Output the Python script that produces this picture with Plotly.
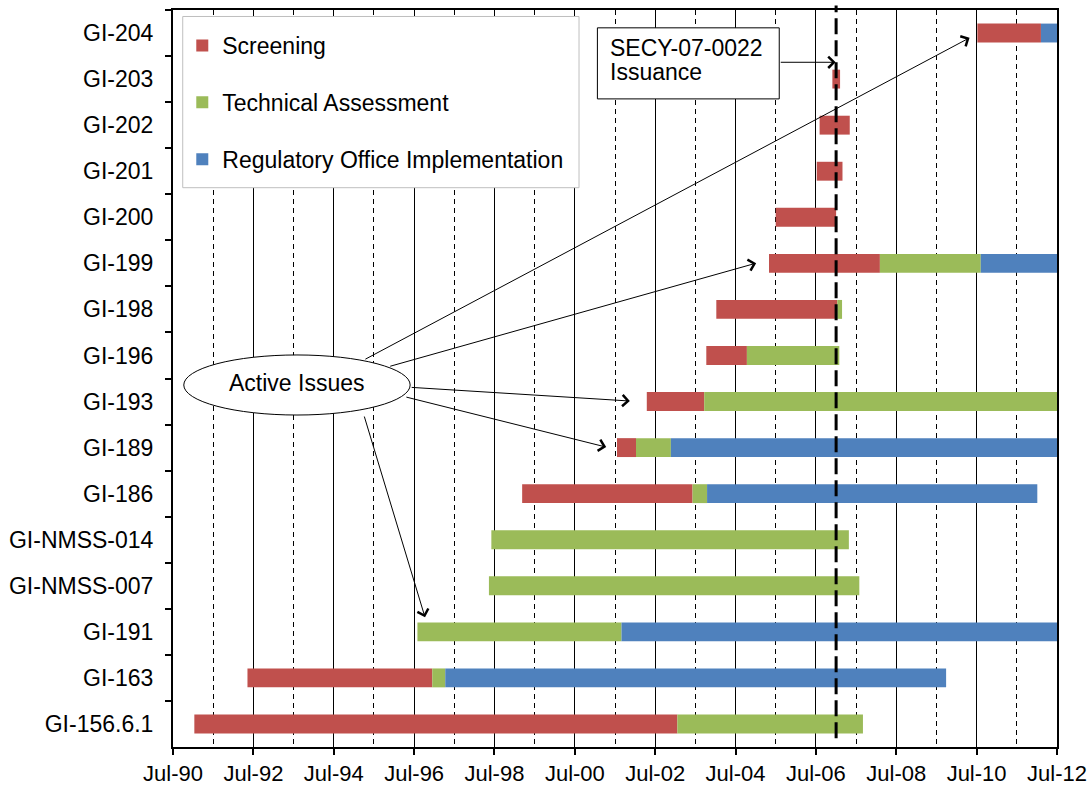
import pandas as pd
import plotly.graph_objects as go

# Generic issues, listed top to bottom
issues = ["GI-204", "GI-203", "GI-202", "GI-201", "GI-200", "GI-199", "GI-198",
          "GI-196", "GI-193", "GI-189", "GI-186", "GI-NMSS-014", "GI-NMSS-007",
          "GI-191", "GI-163", "GI-156.6.1"]

# Phase start / end dates (None = phase not applicable)
screening_start = ["2010-07-08", "2006-11-28", "2006-08-04", "2006-07-09", "2005-07-01",
                   "2005-05-01", "2004-01-08", "2003-10-09", "2002-04-16", "2001-07-19",
                   "1999-03-10", None, None, None, "1992-05-08", "1991-01-11"]
screening_end = ["2012-02-06", "2007-02-06", "2007-05-05", "2007-02-28", "2007-01-01",
                 "2008-02-03", "2007-01-12", "2004-10-12", "2003-09-20", "2002-01-08",
                 "2003-06-06", None, None, None, "1996-12-13", "2003-01-19"]
tech_start = [None, None, None, None, None,
              "2008-02-03", "2007-01-12", "2004-10-12", "2003-09-20", "2002-01-08",
              "2003-06-06", "1998-06-03", "1998-05-12", "1996-07-31", "1996-12-13", "2003-01-19"]
tech_end = [None, None, None, None, None,
            "2010-08-08", "2007-02-24", "2007-01-30", "2012-07-01", "2002-11-21",
            "2003-10-16", "2007-04-27", "2007-07-31", "2001-08-29", "1997-04-10", "2007-09-02"]
roi_start = ["2012-02-06", None, None, None, None, "2010-08-08", None, None, None,
             "2002-11-21", "2003-10-16", None, None, "2001-08-29", "1997-04-10", None]
roi_end = ["2012-07-01", None, None, None, None, "2012-07-01", None, None, None,
           "2012-07-01", "2012-01-04", None, None, "2012-07-01", "2009-09-27", None]

secy_date = "2007-01-01"
axis_start, axis_end = "1990-07-01", "2012-07-01"

phases = [
    ("Screening", screening_start, screening_end, "#C0504D"),
    ("Technical Assessment", tech_start, tech_end, "#9BBB59"),
    ("Regulatory Office Implementation", roi_start, roi_end, "#4F81BD"),
]

FONT = "Liberation Sans, Arial, sans-serif"
FS = 23

fig = go.Figure()
for name, starts, ends, color in phases:
    ys, bases, lengths = [], [], []
    for issue, s, e in zip(issues, starts, ends):
        if s is None or e is None:
            continue
        ys.append(issue)
        bases.append(s)
        lengths.append((pd.Timestamp(e) - pd.Timestamp(s)).total_seconds() * 1000)
    fig.add_trace(go.Bar(
        y=ys, x=lengths, base=bases, orientation="h", name=name,
        marker=dict(color=color, line=dict(width=0)),
        legendgroup=name,
    ))

# Legend frame (white panel hiding the grid behind the legend entries)
fig.add_shape(type="rect", xref="paper", yref="paper", x0=0.011, x1=0.4593,
              y0=0.7589, y1=0.9912, line=dict(color="#BFBFBF", width=1),
              fillcolor="white", layer="above")

# Key date: SECY-07-0022 issuance
fig.add_shape(type="line", xref="x", yref="paper", x0=secy_date, x1=secy_date,
              y0=0.012, y1=1.006, line=dict(color="black", width=3, dash="16px,6px"),
              layer="above")

# Callout box for the SECY issuance
fig.add_shape(type="rect", xref="x", yref="y", x0="2001-01-22", x1="2005-08-02",
              y0=-0.113, y1=1.43, line=dict(color="black", width=1),
              fillcolor="white", layer="above")
for txt, yy in [("SECY-07-0022", 0.315), ("Issuance", 0.852)]:
    fig.add_annotation(x="2001-04-25", y=yy, xref="x", yref="y", text=txt,
                       showarrow=False, xanchor="left", yanchor="middle",
                       font=dict(family=FONT, size=FS, color="black"))
fig.add_annotation(x="2006-12-28", y=0.635, ax="2005-08-02", ay=0.635,
                   xref="x", yref="y", axref="x", ayref="y", text="",
                   showarrow=True, arrowhead=4, arrowsize=2.2, arrowwidth=1,
                   arrowcolor="black", standoff=0)

# "Active Issues" callout ellipse with arrows to the open issues
fig.add_shape(type="circle", xref="x", yref="y", x0="1990-10-07", x1="1996-05-26",
              y0=6.989, y1=8.293, line=dict(color="black", width=1),
              fillcolor="white", layer="above")
fig.add_annotation(x="1993-08-01", y=7.6, xref="x", yref="y", text="Active Issues",
                   showarrow=False, font=dict(family=FONT, size=FS, color="black"))

active_arrows = [
    # (tail x, tail y, head x, head y)
    ("1995-04-01", 7.098, "2010-04-28", 0.104),
    ("1995-11-13", 7.243, "2005-01-04", 4.996),
    ("1996-05-26", 7.691, "2001-11-13", 7.989),
    ("1996-04-08", 7.896, "2001-04-12", 8.989),
    ("1995-04-01", 8.293, "1996-10-08", 12.685),
]
for tx, ty, hx, hy in active_arrows:
    fig.add_annotation(x=hx, y=hy, ax=tx, ay=ty, xref="x", yref="y",
                       axref="x", ayref="y", text="", showarrow=True,
                       arrowhead=4, arrowsize=2.2, arrowwidth=1,
                       arrowcolor="black", standoff=0)

fig.update_layout(
    width=1089, height=785,
    margin=dict(l=173, r=32, t=10, b=38),
    paper_bgcolor="white", plot_bgcolor="white",
    barmode="overlay", bargap=0.59,
    font=dict(family=FONT, size=FS, color="black"),
    showlegend=True,
    legend=dict(
        x=0.0105, y=0.981, xanchor="left", yanchor="top",
        bgcolor="rgba(0,0,0,0)", borderwidth=0,
        font=dict(family=FONT, size=FS, color="black"),
        tracegroupgap=24, traceorder="grouped",
    ),
    xaxis=dict(
        type="date", range=[axis_start, axis_end], automargin=False,
        tick0=axis_start, dtick="M24", tickformat="%b-%y",
        showgrid=True, gridcolor="black", gridwidth=1,
        minor=dict(tick0=axis_start, dtick="M12", showgrid=True,
                   gridcolor="black", gridwidth=1, griddash="5px,4px"),
        showline=True, linecolor="black", linewidth=2, mirror=True,
        ticks="outside", ticklen=6, tickwidth=2, tickcolor="black",
        tickfont=dict(family=FONT, size=22, color="black"),
        ticklabelstandoff=0,
        zeroline=False,
    ),
    yaxis=dict(
        type="category", categoryorder="array", categoryarray=issues,
        range=[15.5, -0.5], automargin=False,
        showgrid=False, showline=True, linecolor="black", linewidth=2, mirror=True,
        ticks="outside", tickson="boundaries", ticklen=6, tickwidth=1.5,
        tickcolor="black", ticklabelstandoff=13,
        tickfont=dict(family=FONT, size=FS, color="black"),
        zeroline=False,
    ),
)

fig.write_html("out.html")
